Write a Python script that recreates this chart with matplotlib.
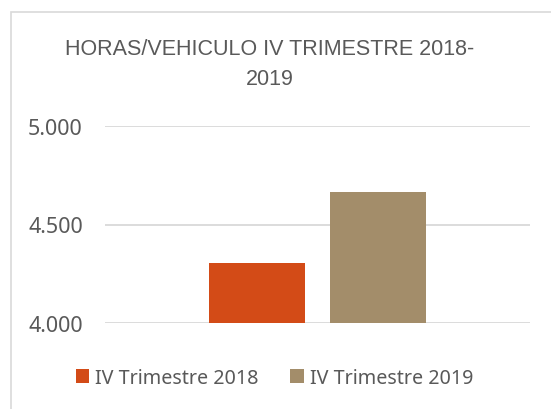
import matplotlib.pyplot as plt
from matplotlib.patches import Rectangle

# ── Datos ─────────────────────────────────────────────────────────────────────
series  = ["IV Trimestre 2018", "IV Trimestre 2019"]
valores = [4.305, 4.668]
colores = ["#D34B17", "#A38D6A"]
ticks   = [4.0, 4.5, 5.0]
tick_labels = ["4.000", "4.500", "5.000"]
titulo  = "HORAS/VEHICULO IV TRIMESTRE 2018-\n2019"

GRIS_TXT  = "#595959"
GRIS_GRID = "#D9D9D9"

fig = plt.figure(figsize=(5.51, 4.10), dpi=100)
ax = fig.add_axes([105 / 551, 1 - 323.7 / 410, 425 / 551, 196.4 / 410])

# borde del área del gráfico
fig.patches.append(Rectangle((10.5 / 551, -0.1), 1.2, 1.1 - 12.5 / 410,
                             transform=fig.transFigure, fill=False,
                             edgecolor=GRIS_GRID, linewidth=1.2))

posiciones = [0.3576, 0.6424]
for x, v, c, s in zip(posiciones, valores, colores, series):
    ax.bar(x, v - ticks[0], bottom=ticks[0], width=0.2259, color=c, label=s, zorder=3)

ax.set_xlim(0, 1)
ax.set_ylim(ticks[0], ticks[-1])
ax.set_yticks(ticks)
ax.set_yticklabels(tick_labels)
ax.set_xticks([])
ax.grid(axis="y", color=GRIS_GRID, linewidth=1.3, zorder=0)
for sp in ax.spines.values():
    sp.set_visible(False)
ax.tick_params(axis="y", length=0, pad=16, labelsize=15.5, labelcolor=GRIS_TXT)
for t in ax.get_yticklabels():
    t.set_fontfamily("Noto Sans")

fig.text(270 / 551, 1 - 39 / 410, titulo, ha="center", va="top",
         fontsize=15.5, color=GRIS_TXT, family=["Liberation Sans", "DejaVu Sans"],
         linespacing=1.55)

leg = fig.legend(loc="center", bbox_to_anchor=(274.5 / 551, 1 - 379 / 410),
                 ncol=2, frameon=False, handlelength=0.7, handleheight=0.7,
                 handletextpad=0.3, columnspacing=1.6,
                 prop={"family": "Noto Sans", "size": 14.2})
for t in leg.get_texts():
    t.set_color(GRIS_TXT)

fig.savefig("out.png", dpi=100)
